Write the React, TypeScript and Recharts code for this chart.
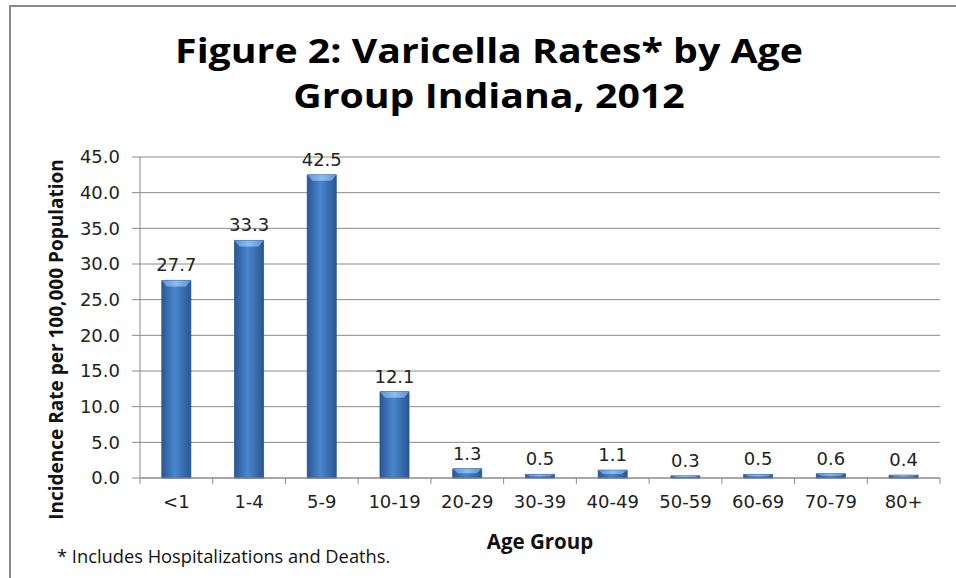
import { Bar, BarChart, CartesianGrid, LabelList, XAxis, YAxis } from 'recharts';

const ageGroups = ['<1', '1-4', '5-9', '10-19', '20-29', '30-39', '40-49', '50-59', '60-69', '70-79', '80+'];
const rates = [27.7, 33.3, 42.5, 12.1, 1.3, 0.5, 1.1, 0.3, 0.5, 0.6, 0.4];
const yTicks = [0, 5, 10, 15, 20, 25, 30, 35, 40, 45];

const chartData = ageGroups.map((group, index) => ({ group, rate: rates[index] }));

const PLOT_LEFT = 140;
const PLOT_RIGHT = 940;
const STEP = (PLOT_RIGHT - PLOT_LEFT) / ageGroups.length;
const AXIS_GRAY = '#8a8a8a';
const TICK_FONT = '"DejaVu Sans", Verdana, sans-serif';
const TITLE_FONT = '"Open Sans", Lato, sans-serif';

const AgeTick = (props: any) => {
  const { x, y, payload, index } = props;
  const isLast = index === ageGroups.length - 1;
  return (
    <g>
      <line x1={x - STEP / 2} x2={x - STEP / 2} y1={y - 8} y2={y - 2} stroke={AXIS_GRAY} />
      {isLast && <line x1={x + STEP / 2} x2={x + STEP / 2} y1={y - 8} y2={y - 2} stroke={AXIS_GRAY} />}
      <text x={x} y={y + 22} textAnchor="middle" fontSize={18} fontFamily={TICK_FONT} fill="#222">
        {payload.value}
      </text>
    </g>
  );
};

const BevelBar = (props: any) => {
  const x = Number(props.x);
  const y = Number(props.y);
  const width = Number(props.width);
  const height = Number(props.height);
  if (!height || height <= 0 || !width) return <g />;
  const bevel = Math.min(6, height / 2);
  const inset = Math.min(5, width / 4);
  return (
    <g>
      <path
        d={`M${x},${y} h${width} v${height} h${-width} Z`}
        fill="url(#barGrad)"
        stroke="#25508a"
        strokeWidth={0.8}
      />
      <path
        d={`M${x},${y} L${x + width},${y} L${x + width - inset},${y + bevel} L${x + inset},${y + bevel} Z`}
        fill="url(#bevelGrad)"
      />
    </g>
  );
};

const YTitle = (props: any) => {
  const { viewBox } = props;
  const cx = 56;
  const cy = viewBox.y + viewBox.height / 2 + 22;
  return (
    <text
      x={cx}
      y={cy}
      transform={`rotate(-90, ${cx}, ${cy})`}
      textAnchor="middle"
      dominantBaseline="central"
      fontSize={19}
      fontWeight="bold"
      fontFamily={TITLE_FONT}
      fill="#111"
    >
      Incidence Rate per 100,000 Population
    </text>
  );
};

export default function App() {
  return (
    <div style={{ position: 'absolute', left: 0, top: 0, width: 956, height: 578, background: '#fff' }}>
      <div
        style={{
          position: 'absolute',
          left: 9,
          top: 5,
          width: 947,
          height: 573,
          borderLeft: '2px solid #8a8a8a',
          borderTop: '2px solid #8a8a8a',
        }}
      />
      <div
        style={{
          position: 'absolute',
          left: 0,
          top: 28,
          width: 978,
          textAlign: 'center',
          fontFamily: TITLE_FONT,
          fontWeight: 'bold',
          fontSize: 34,
          lineHeight: '45px',
          color: '#000',
          transform: 'scaleX(1.155)',
          transformOrigin: '489px 0',
        }}
      >
        Figure 2: Varicella Rates* by Age
        <br />
        Group Indiana, 2012
      </div>
      <BarChart
        width={956}
        height={578}
        data={chartData}
        margin={{ top: 157, right: 16, bottom: 30, left: 0 }}
        barCategoryGap="30%"
        style={{ position: 'absolute', left: 0, top: 0 }}
      >
        <defs>
          <linearGradient id="barGrad" x1="0" y1="0" x2="1" y2="0">
            <stop offset="0%" stopColor="#2a5793" />
            <stop offset="45%" stopColor="#4a86cf" />
            <stop offset="100%" stopColor="#2a5793" />
          </linearGradient>
          <linearGradient id="bevelGrad" x1="0" y1="0" x2="1" y2="0">
            <stop offset="0%" stopColor="#5d93d6" />
            <stop offset="50%" stopColor="#8cbcf0" />
            <stop offset="100%" stopColor="#5d93d6" />
          </linearGradient>
        </defs>
        <CartesianGrid vertical={false} stroke={AXIS_GRAY} />
        <XAxis
          dataKey="group"
          height={70}
          stroke={AXIS_GRAY}
          tickLine={false}
          tick={<AgeTick />}
          interval={0}
          label={{
            value: 'Age Group',
            position: 'insideBottom',
            offset: -1,
            fontSize: 20.5,
            fontWeight: 'bold',
            fontFamily: TITLE_FONT,
            fill: '#111',
          }}
        />
        <YAxis
          width={140}
          domain={[0, 45]}
          ticks={yTicks}
          stroke={AXIS_GRAY}
          tickSize={8}
          tickMargin={12}
          tickFormatter={(v: number) => v.toFixed(1)}
          tick={{ fontSize: 18, fontFamily: TICK_FONT, fill: '#222' }}
          label={<YTitle />}
        />
        <Bar dataKey="rate" fill="#3b72b8" shape={<BevelBar />} isAnimationActive={false}>
          <LabelList
            dataKey="rate"
            position="top"
            offset={9}
            formatter={(v: any) => Number(v).toFixed(1)}
            style={{ fontSize: 18, fontFamily: TICK_FONT, fill: '#222' }}
          />
        </Bar>
      </BarChart>
      <div
        style={{
          position: 'absolute',
          left: 57,
          top: 543,
          fontFamily: TITLE_FONT,
          fontSize: 18.3,
          color: '#111',
          whiteSpace: 'nowrap',
        }}
      >
        * Includes Hospitalizations and Deaths.
      </div>
    </div>
  );
}
